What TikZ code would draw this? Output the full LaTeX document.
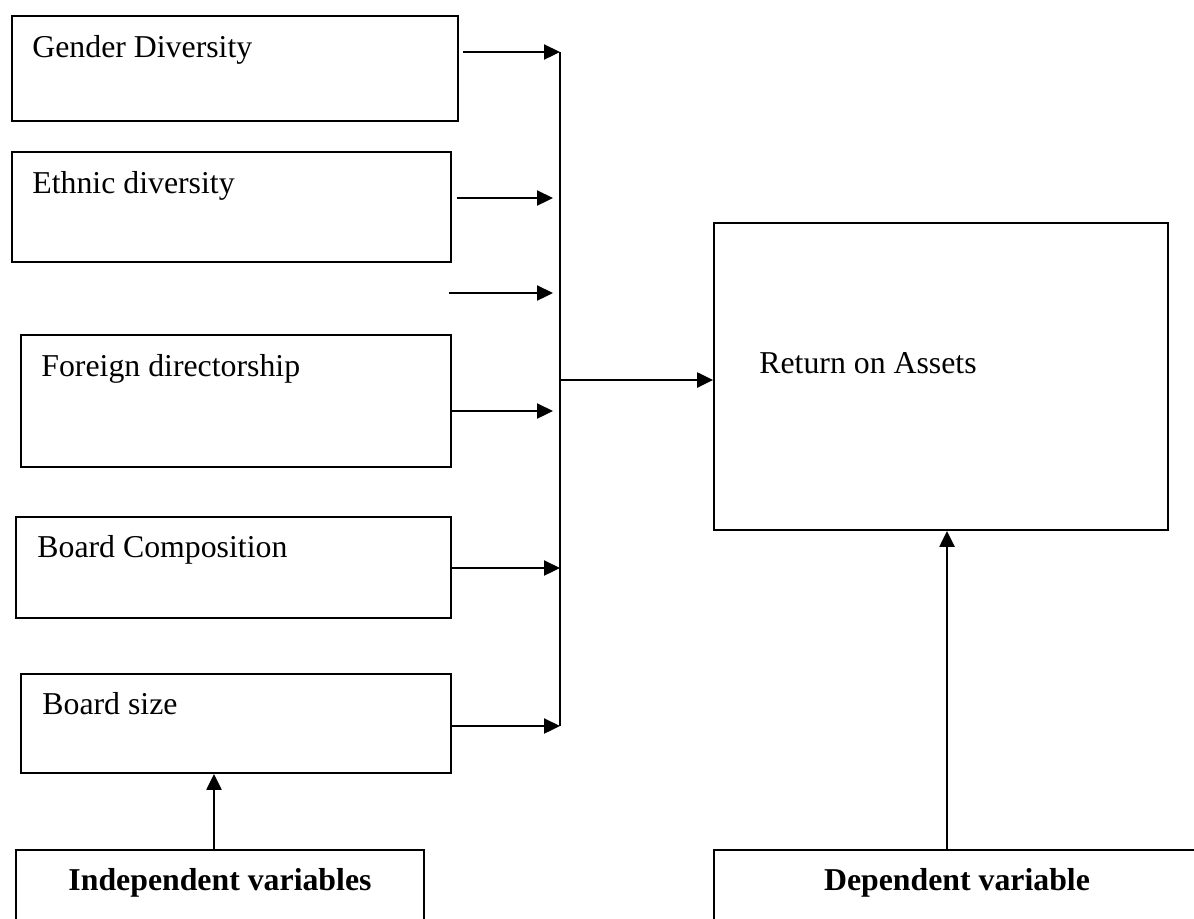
\documentclass[tikz,border=0pt]{standalone}
\usepackage{fontspec}
\setmainfont{Liberation Serif}
\usetikzlibrary{arrows.meta,fit}
\begin{document}
\begin{tikzpicture}[x=0.5pt,y=-0.5pt,
  box/.style={draw=black,line width=0.9pt,inner sep=0pt,rectangle},
  lbl/.style={inner sep=0pt,anchor=base west,font=\fontsize{15.9}{19}\selectfont},
  blbl/.style={inner sep=0pt,anchor=base,font=\fontsize{15.9}{19}\selectfont\bfseries},
  conn/.style={line width=1.15pt,-{Triangle[length=8pt,width=7.5pt]}},
  busline/.style={line width=1pt}]
\useasboundingbox (0,0) rectangle (1194,918);
\clip (0,0) rectangle (1194,918);
% boxes
\node[box,fit={(12,16)(458,121)}] (g) {};
\node[box,fit={(12,152)(451,262)}] (e) {};
\node[box,fit={(21,335)(451,467)}] (f) {};
\node[box,fit={(16,517)(451,618)}] (c) {};
\node[box,fit={(21,674)(451,773)}] (s) {};
\node[box,fit={(16,850)(424,960)}] (iv) {};
\node[box,fit={(714,223)(1168,530)}] (roa) {};
\node[box,fit={(714,850)(1200,960)}] (dv) {};
% texts
\node[lbl] (gt) at (32,57) {Gender Diversity};
\node[lbl] (et) at (32,193) {Ethnic diversity};
\node[lbl] (ft) at (41,376) {Foreign directorship};
\node[lbl] (ct) at (37,557) {Board Composition};
\node[lbl] (st) at (42,714) {Board size};
\node[lbl] (rt) at (759,373) {Return on Assets};
\node[blbl] (ivt) at (220,890) {Independent variables};
\node[blbl] (dvt) at (957,890) {Dependent variable};
% connector points
\coordinate (g0) at (463,52);
\coordinate (b1) at (560,52);
\coordinate (e0) at (457,198);
\coordinate (e1) at (553,198);
\coordinate (x0) at (449,293);
\coordinate (x1) at (553,293);
\coordinate (f0) at (452,411);
\coordinate (f1) at (553,411);
\coordinate (c0) at (451,568);
\coordinate (c1) at (560,568);
\coordinate (s0) at (451,726);
\coordinate (b2) at (560,726);
\coordinate (bm) at (560,380);
\coordinate (ivtop) at (214,850);
\coordinate (dvtop) at (947,850);
% bus
\draw[busline] (b1) -- (b2);
% arrows
\draw[conn] (g0) -- (b1);
\draw[conn] (e0) -- (e1);
\draw[conn] (x0) -- (x1);
\draw[conn] (f0) -- (f1);
\draw[conn] (c0) -- (c1);
\draw[conn] (s0) -- (b2);
\draw[conn] (bm) -- (bm -| roa.west);
\draw[conn] (ivtop) -- (ivtop |- s.south);
\draw[conn] (dvtop) -- (dvtop |- roa.south);
\end{tikzpicture}
\end{document}
